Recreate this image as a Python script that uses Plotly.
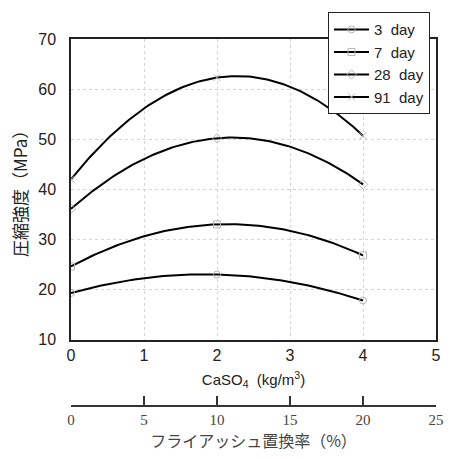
import numpy as np
import plotly.graph_objects as go

# ---- data ----
caso4 = [0, 2, 4]                      # kg/m3
series_names = ["3  day", "7  day", "28  day", "91  day"]
day3 = [19.3, 23.0, 17.8]
day7 = [24.6, 33.0, 26.8]
day28 = [36.1, 50.2, 41.0]
day91 = [42.0, 62.3, 50.7]
symbols = ["circle-open", "square-open", "diamond-open", "x-thin-open"]
x_ticks = [0, 1, 2, 3, 4, 5]
y_ticks = [10, 20, 30, 40, 50, 60, 70]
fa_ticks = [0, 5, 10, 15, 20, 25]      # fly ash replacement ratio (%)

FONT = "Liberation Sans Narrow, Liberation Sans, Arial, sans-serif"
CJK = "Noto Sans CJK JP"

fig = go.Figure()
xs = np.linspace(min(caso4), max(caso4), 121)
for name, vals, sym in zip(series_names, [day3, day7, day28, day91], symbols):
    coef = np.polyfit(caso4, vals, 2)
    fig.add_trace(go.Scatter(x=xs, y=np.polyval(coef, xs), mode="lines",
                             line=dict(color="black", width=2),
                             showlegend=False, hoverinfo="skip"))
    fig.add_trace(go.Scatter(x=caso4, y=vals, mode="markers",
                             marker=dict(symbol=sym, size=7, color="#b5b5b5",
                                         line=dict(color="#b5b5b5", width=1)),
                             showlegend=False))
    fig.add_trace(go.Scatter(x=[None], y=[None], mode="lines+markers", name=name,
                             line=dict(color="black", width=2),
                             marker=dict(symbol=sym, size=7, color="#b5b5b5",
                                         line=dict(color="#b5b5b5", width=1))))

# dummy trace for the second x axis
fig.add_trace(go.Scatter(x=[None], y=[None], xaxis="x2", showlegend=False))

W, H = 457, 459
mt, mb, ml, mr = 36, 40, 71, 21
ph = H - mt - mb
plot_bottom = 339
fa_axis_y = 406

fig.update_layout(
    width=W, height=H,
    margin=dict(t=mt, b=mb, l=ml, r=mr, pad=0),
    paper_bgcolor="white", plot_bgcolor="white",
    font=dict(family=FONT, size=15, color="#222"),
    xaxis=dict(range=[0, 5], tickvals=x_ticks, ticks="", showline=True, mirror=True,
               linecolor="#222", linewidth=1.5, showgrid=True, gridcolor="#d4d4d4",
               griddash="dot", gridwidth=1, zeroline=False,
               tickfont=dict(family=FONT, size=16),
               title=dict(text="CaSO<sub>4</sub>  (kg/m<sup>3</sup>)", standoff=12,
                          font=dict(family=FONT, size=15))),
    yaxis=dict(range=[10, 70], tickvals=y_ticks, ticks="", showline=True, mirror=True,
               linecolor="#222", linewidth=1.5, showgrid=True, gridcolor="#d4d4d4",
               griddash="dot", gridwidth=1, zeroline=False,
               ticklabelstandoff=10,
               domain=[(H - mb - plot_bottom) / ph, 1],
               tickfont=dict(family=FONT, size=16),
               title=dict(text="圧縮強度（MPa）", standoff=6,
                          font=dict(family=CJK, size=17))),
    xaxis2=dict(range=[0, 25], tickvals=fa_ticks, overlaying="x", anchor="free",
                position=(H - mb - fa_axis_y) / ph, side="bottom",
                showline=True, linecolor="#333", linewidth=1.5,
                ticks="inside", ticklen=9, tickwidth=1.5, tickcolor="#333",
                showgrid=False, zeroline=False,
                tickfont=dict(family="Liberation Serif, serif", size=15, color="#444"),
                title=dict(text="フライアッシュ置換率（%）", standoff=6,
                           font=dict(family=CJK, size=16, color="#444"))),
    legend=dict(x=(328 - ml) / (W - ml - mr), y=(H - mb - 9) / ph,
                xanchor="left", yanchor="top",
                bgcolor="white", bordercolor="#222", borderwidth=1,
                font=dict(family=FONT, size=15, color="#222"),
                itemwidth=35, tracegroupgap=0),
    showlegend=True,
)

fig.write_html("out.html")
